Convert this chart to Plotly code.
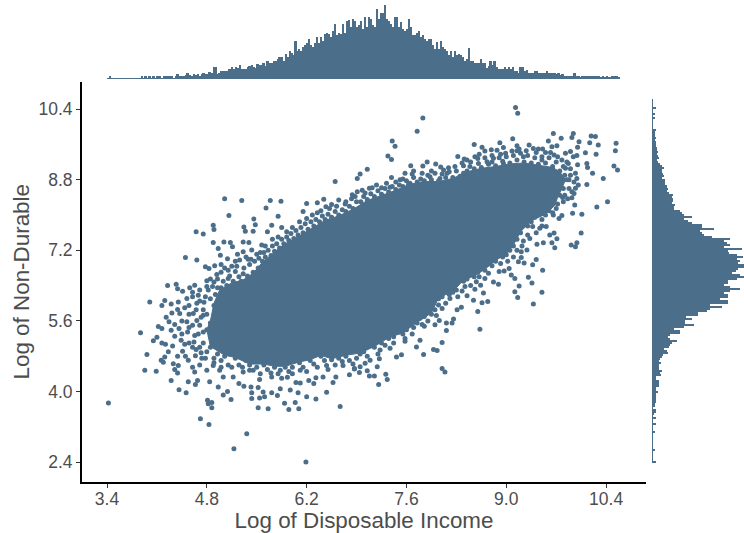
import plotly.graph_objects as go
import numpy as np

COLOR = "#4b6e8b"
TEXT = "#4d4d4d"
x_ticks = [3.4, 4.8, 6.2, 7.6, 9.0, 10.4]
x_labels = ["3.4", "4.8", "6.2", "7.6", "9.0", "10.4"]
y_ticks = [2.4, 4.0, 5.6, 7.2, 8.8, 10.4]
y_labels = ["2.4", "4.0", "5.6", "7.2", "8.8", "10.4"]

# dense core of the cloud, read as an outline (income, non-durable)
core_outline = [(4.85,5.6),(4.9,6.0),(4.98,6.3),(5.17,6.48),(5.28,6.5),(5.45,6.68),(5.58,6.93),(5.75,7.16),(5.88,7.33),
    (6.02,7.45),(6.15,7.58),(6.3,7.73),(6.46,7.88),(6.65,7.98),(6.85,8.13),(7.05,8.33),(7.25,8.45),(7.45,8.56),
    (7.65,8.7),(7.85,8.76),(8.05,8.76),(8.25,8.83),(8.45,8.98),(8.65,9.06),(8.85,9.1),(9.05,9.16),(9.25,9.18),
    (9.45,9.13),(9.65,9.08),(9.75,8.98),(9.83,8.8),(9.78,8.6),(9.72,8.4),(9.68,8.22),(9.55,8.02),(9.35,7.87),
    (9.2,7.62),(9.1,7.32),(9.0,7.12),(8.85,6.97),(8.7,6.77),(8.55,6.62),(8.4,6.52),(8.25,6.27),(8.05,6.12),
    (7.95,5.78),(7.75,5.57),(7.55,5.33),(7.35,5.22),(7.15,5.02),(6.95,4.87),(6.75,4.82),(6.55,4.74),(6.4,4.82),
    (6.25,4.72),(6.1,4.67),(5.9,4.57),(5.75,4.57),(5.6,4.62),(5.4,4.62),(5.2,4.77),(5.05,4.82),(4.85,5.02),
    (4.8,5.4),(4.85,5.6)]

# individually readable points (income, non-durable)
points_low = [(3.42,3.74),(3.87,5.33),(4.0,6.03),(3.93,4.48),(3.96,4.84),(4.09,4.46),(4.05,5.15),(4.10,5.23),
    (4.12,5.47),(4.17,5.43),(4.17,5.95),(4.21,6.06),(4.25,6.40),(4.37,6.43),(4.39,6.33),(4.50,7.04),(4.65,7.62),
    (4.75,7.57),(4.89,7.77),(4.90,7.67),(5.05,8.37),(5.11,7.99),(5.29,8.33),(5.32,7.73),(5.34,7.63),(5.46,7.91),
    (5.45,7.63),(5.48,7.78),(5.63,8.16),(5.69,8.33),(5.84,8.31),(5.80,7.97),(5.71,7.77),(5.65,7.62),(5.85,7.72),
    (6.20,8.26),(6.15,8.08),(6.35,8.28),(6.44,8.36),(6.35,8.05),(6.47,8.19),(6.55,8.24),(6.65,8.34),(6.60,8.76),
    (6.74,8.25),(6.83,8.37),(6.91,8.53),(4.89,7.38),(5.04,7.39),(5.13,7.38),(5.16,7.28),(5.31,7.39),(5.39,7.38),
    (5.57,7.32),(4.96,7.24),(4.99,7.09),(5.09,7.01),(4.66,6.98),(4.78,6.83),(4.91,6.85),(4.83,6.79),(5.0,6.88),
    (5.15,6.84),(5.23,7.11),(5.31,7.17),(5.43,7.21),(5.38,7.0),(5.26,6.98),(5.22,6.84),(5.50,7.11),(4.94,6.65),
    (4.80,6.51),(4.90,6.48),(5.10,6.56),(5.31,6.67),(4.56,6.35),(4.63,6.41),(4.46,6.27),(4.68,6.18),(4.82,6.30),
    (4.52,6.11),(4.40,6.03),(4.30,5.98),(4.31,5.78),(4.39,5.86),(4.49,5.90),(4.66,6.0),(4.76,6.02),(4.42,5.77),
    (4.61,5.77),(4.23,5.68),(4.27,5.58),(4.35,5.52),(4.52,5.58),(4.66,5.61),(4.75,5.73),(4.30,5.39),(4.41,5.43),
    (4.53,5.35),(4.63,5.27),(4.75,5.35),(4.44,5.16),(4.17,5.10),(4.22,5.07),(4.32,5.03),(4.49,5.07),(4.60,5.0),
    (4.26,4.90),(4.46,4.91),(4.21,4.78),(4.39,4.80),(4.64,4.81),(4.16,4.71),(4.19,4.66),(4.33,4.63),(4.40,4.59),
    (4.54,4.71),(4.73,4.75),(4.35,4.50),(4.39,4.42),(4.63,4.44),(4.80,4.48),(4.30,4.25),(4.54,4.22),(4.67,4.25),
    (4.64,4.16),(4.84,4.22),(4.41,4.04),(4.51,3.97),(4.96,4.10),(5.09,4.0),(5.03,3.92),(5.14,3.82),(4.81,3.80),
    (4.87,3.75),(4.82,3.72),(4.87,3.63),(4.71,3.38),(4.83,3.25),(5.36,3.04),(5.18,2.70),(6.19,2.40),(6.67,3.66),
    (6.48,3.98),(6.33,3.83),(6.20,3.88),(6.09,3.61),(5.95,3.59),(6.04,3.75),(5.89,3.73),(5.66,3.61),(5.52,3.63),
    (5.43,3.84),(5.54,3.85),(5.61,3.88),(5.79,3.91),(5.97,4.03),(6.08,3.97),(5.71,3.97),(5.43,3.97),(5.59,3.99),
    (5.32,4.12),(5.25,4.18),(5.42,4.10),(5.52,4.09),(5.83,4.06),(5.54,4.27),(5.71,4.33),(5.93,4.32),(6.05,4.20),
    (6.11,4.19),(6.30,4.18),(6.23,4.25),(6.33,4.31),(6.43,4.33),(6.57,4.20),(6.61,4.33),(6.80,4.38),(6.87,4.51),
    (6.94,4.43),(6.71,4.59),(5.03,4.33),(5.17,4.33),(5.31,4.44),(5.45,4.48),(5.83,4.48),(6.11,4.48),(6.48,4.59),
    (4.89,4.59),(4.98,4.48)]

points_high = [(9.13,10.44),(9.16,10.31),(7.83,10.20),(7.75,9.90),(7.40,9.68),(7.44,9.56),(7.34,9.34),(7.39,9.26),
    (7.05,9.04),(6.95,8.93),(6.91,8.83),(7.39,8.85),(7.58,8.95),(7.68,8.93),(7.66,9.12),(7.89,9.20),(7.83,9.11),
    (8.01,9.16),(8.08,9.09),(8.19,9.07),(8.32,9.33),(8.41,9.27),(8.55,9.60),(8.56,9.32),(8.66,9.54),(8.70,9.45),
    (8.79,9.48),(8.91,9.64),(8.96,9.53),(8.87,9.47),(8.99,9.40),(9.09,9.73),(9.15,9.57),(8.82,9.29),(9.15,9.46),
    (9.32,9.59),(9.38,9.51),(9.45,9.50),(9.51,9.50),(9.59,9.68),(9.66,9.85),(9.77,9.74),(9.64,9.55),(9.71,9.57),
    (9.94,9.85),(9.92,9.76),(10.02,9.66),(10.0,9.54),(10.19,9.79),(10.25,9.78),(10.17,9.64),(10.29,9.59),
    (10.54,9.63),(10.53,9.46),(10.26,9.38),(10.11,9.41),(10.51,9.11),(10.56,9.02),(10.36,8.83),(10.21,8.95),
    (10.13,9.17),(10.14,9.08),(10.0,9.14),(9.83,9.40),(9.90,9.44),(9.94,9.32),(9.99,9.35),(9.67,9.36),(9.87,9.17),
    (9.83,9.06),(9.97,8.95),(9.99,8.83),(9.88,8.80),(10.13,8.69),(10.01,8.68),(9.97,8.61),(9.92,8.53),(9.95,8.49),
    (9.92,8.39),(9.86,8.37),(9.79,8.40),(10.42,8.30),(10.27,8.18),(9.96,8.23),(9.93,8.04),(10.06,8.02),(9.78,7.99),
    (9.74,7.92),(9.66,8.0),(10.05,7.59),(9.67,7.59),(9.71,7.46),(9.61,7.55),(9.91,7.32),(9.99,7.37),(9.97,7.28),
    (9.68,7.26),(9.64,7.37),(9.52,7.37),(9.43,7.34),(9.56,7.74),(9.47,7.70),(9.37,7.74),(9.33,7.47),(9.24,7.41),
    (9.29,7.21),(9.21,7.17),(9.21,7.04),(9.42,6.99),(9.37,6.87),(9.25,6.91),(9.17,6.94),(9.51,6.75),(9.04,6.79),
    (8.97,6.73),(8.90,6.72),(9.07,6.64),(9.12,6.56),(9.31,6.59),(9.36,6.46),(9.18,6.39),(9.12,6.26),(9.50,6.25),
    (9.16,6.13),(9.38,5.98),(8.89,6.43),(8.82,6.48),(8.70,6.56),(8.58,6.49),(8.64,6.41),(8.56,6.32),(8.68,6.23),
    (8.74,6.04),(8.66,6.01),(8.60,5.81),(8.42,6.38),(8.45,6.17),(8.54,6.07),(8.37,5.91),(8.31,5.85),(8.63,5.41),
    (8.26,5.64),(8.24,5.55),(8.16,5.55),(8.06,5.61),(8.0,5.51),(8.16,5.38),(8.10,5.11),(8.03,4.93),(7.98,4.95),
    (7.84,4.84),(7.74,5.01),(7.79,5.16),(7.85,5.48),(8.10,4.52),(8.14,4.44),(7.53,4.83),(7.46,4.78),(7.22,4.74),
    (7.19,4.56),(7.31,4.39),(7.33,4.27),(7.21,4.16),(7.15,4.35),(7.08,4.35),(6.95,4.56),(6.87,4.52),(7.05,4.47),
    (7.09,4.71),(7.02,4.64),(7.0,4.90),(7.23,4.94),(7.37,4.98),(7.58,5.14),(7.42,5.24),(7.65,5.51),(7.79,5.66),
    (8.05,5.96),(8.21,6.11),(6.84,8.46),(6.98,8.56),(7.08,8.61),(7.18,8.68),(7.37,8.63),(7.51,8.80),(7.63,8.70),
    (7.82,8.95),(7.93,8.87),(8.07,8.83),(8.17,8.95),(8.40,8.95),(8.49,9.10),(8.61,9.17),(8.73,9.21),(8.96,9.17),
    (9.24,9.32),(9.50,9.25)]

# crowded band of points around the dense core
points_band = [(5.0,6.35),(5.03,6.5),(5.08,6.4),(5.12,6.62),(5.17,6.5),(5.2,6.72),(5.25,6.6),(5.28,6.5),(5.32,6.8),
    (5.37,6.62),(5.4,6.88),(5.45,6.7),(5.47,6.95),(5.52,6.8),(5.53,7.02),(5.58,6.95),(5.6,7.15),(5.62,7.05),
    (5.66,7.2),(5.7,7.08),(5.72,7.3),(5.75,7.18),(5.78,7.35),(5.82,7.25),(5.85,7.45),(5.88,7.35),(5.92,7.5),
    (5.95,7.42),(5.98,7.58),(6.02,7.47),(6.05,7.65),(6.08,7.55),(6.12,7.72),(6.15,7.6),(6.18,7.8),(6.22,7.68),
    (6.26,7.85),(6.3,7.75),(6.33,7.9),(6.38,7.85),(6.42,7.98),(6.46,7.9),(6.5,8.02),(6.55,7.95),(6.6,8.08),
    (6.65,8.0),(6.7,8.12),(6.75,8.08),(6.8,8.2),(6.85,8.15),(6.9,8.3),(6.96,8.3),(7.0,8.42),(7.05,8.35),(7.1,8.48),
    (7.15,8.42),(7.2,8.55),(7.25,8.47),(7.3,8.6),(7.35,8.52),(7.4,8.65),(7.45,8.58),(7.5,8.68),(7.55,8.65),
    (7.6,8.78),(7.65,8.72),(7.7,8.85),(7.75,8.75),(7.8,8.82),(7.85,8.78),(7.9,8.9),(7.95,8.8),(8.0,8.95),(8.05,8.78),
    (8.1,8.93),(8.15,8.85),(8.2,8.98),(8.25,8.85),(8.3,9.0),(8.35,8.88),(8.4,9.12),(8.45,9.0),(8.5,9.2),(8.55,9.05),
    (8.6,9.28),(8.65,9.08),(8.7,9.3),(8.75,9.15),(8.8,9.2),(8.85,9.12),(8.9,9.3),(8.95,9.22),(9.0,9.32),(9.05,9.18),
    (9.1,9.35),(9.15,9.25),(9.2,9.4),(9.25,9.2),(9.3,9.35),(9.35,9.18),(9.4,9.3),(9.45,9.15),(9.5,9.32),(9.55,9.18),
    (9.6,9.3),(9.65,9.1),(9.7,9.2),(9.75,9.0),(9.8,9.1),(9.82,8.9),(9.85,8.8),(9.8,8.6),(9.75,8.45),(9.72,8.25),
    (9.6,8.1),(9.55,8.0),(9.5,7.9),(9.4,7.95),(9.35,7.85),(9.3,7.75),(9.2,7.6),(9.15,7.45),(9.1,7.3),(9.05,7.2),
    (9.0,7.1),(8.95,7.05),(8.85,6.95),(8.8,6.85),(8.7,6.75),(8.6,6.7),(8.55,6.6),(8.45,6.55),(8.4,6.5),(8.3,6.3),
    (8.25,6.25),(8.2,6.2),(8.1,6.15),(8.05,6.1),(8.0,5.85),(7.95,5.75),(7.9,5.8),(7.85,5.7),(7.75,5.55),(7.7,5.45),
    (7.6,5.4),(7.55,5.3),(7.5,5.35),(7.35,5.2),(7.3,5.3),(7.25,5.1),(7.15,5.0),(7.1,5.05),(6.95,4.85),(6.9,4.75),
    (6.8,4.7),(6.75,4.8),(6.65,4.75),(6.6,4.6),(6.55,4.72),(6.45,4.7),(6.4,4.8),(6.3,4.62),(6.25,4.7),(6.15,4.55),
    (6.1,4.65),(6.0,4.55),(5.95,4.45),(5.9,4.55),(5.8,4.4),(5.75,4.55),(5.65,4.5),(5.6,4.6),(5.5,4.55),(5.4,4.6),
    (5.35,4.7),(5.25,4.6),(5.2,4.75),(5.1,4.6),(5.05,4.8),(5.0,4.7),(4.95,4.85),(4.9,4.75),(4.85,5.0),(4.8,4.9),
    (4.75,5.1),(4.7,5.0),(4.85,5.25),(4.8,5.4),(4.7,5.5),(4.85,5.55),(4.75,5.85),(4.8,5.75),(4.9,5.95),(4.85,6.1),
    (4.78,6.15),(4.92,6.2),(4.88,6.38),(4.95,6.35),(4.7,6.3),(4.6,6.15),(4.55,5.95),(4.6,5.5),(4.55,5.45),(4.45,5.6),
    (4.45,5.3),(4.55,5.1),(4.35,5.25),(4.5,4.8),(4.6,4.55),(4.7,4.6),(4.65,4.95),(4.55,5.75)]

points_outer = [(5.1,6.75),(5.2,6.95),(5.35,7.05),(5.42,7.0),(5.55,7.15),(5.62,7.3),(5.72,7.45),(5.8,7.5),(5.92,7.62),
    (6.0,7.72),(6.1,7.85),(6.2,7.92),(6.28,8.0),(6.4,8.1),(6.52,8.15),(6.62,8.2),(6.75,8.3),(6.88,8.42),(7.02,8.5),
    (7.12,8.62),(7.25,8.62),(7.32,8.72),(7.45,8.75),(7.55,8.82),(7.7,9.0),(7.95,9.0),(8.12,9.02),(8.28,9.1),(8.38,9.18),
    (8.45,9.25),(8.62,9.38),(8.8,9.35),(8.92,9.38),(9.08,9.45),(9.18,9.5),(9.28,9.46),(9.42,9.42),(9.55,9.42),(9.62,9.42),
    (9.72,9.32),(9.78,9.25),(9.85,9.2),(9.9,9.05),(9.9,8.9),(9.95,8.75),(9.88,8.6),(9.82,8.45),(9.8,8.3),(9.7,8.15),
    (9.65,8.05),(9.5,7.75),(9.42,7.6),(9.3,7.55),(9.22,7.3),(9.15,7.2),(9.1,7.05),(9.02,6.95),(8.92,6.9),(8.75,6.68),
    (8.62,6.6),(8.5,6.4),(8.38,6.28),(8.32,6.15),(8.15,6.0),(8.1,5.88),(8.02,5.72),(7.9,5.6),(7.82,5.52),(7.68,5.3),
    (7.58,5.2),(7.42,5.1),(7.3,5.05),(7.2,4.85),(7.05,4.8),(6.85,4.62),(6.7,4.68),(6.5,4.5),(6.35,4.55),(6.2,4.45),
    (6.0,4.4),(5.85,4.3),(5.7,4.42),(5.55,4.4),(5.4,4.48),(5.3,4.55),(5.15,4.55),(5.0,4.55),(4.9,4.65),(4.78,4.75),
    (4.72,4.88),(4.62,5.12),(4.68,5.3),(4.72,5.68),(4.65,5.85),(4.7,6.05),(4.6,6.25),(4.8,6.38),(4.85,6.55),(4.95,6.55),
    (5.0,6.7),(5.05,6.8)]

# marginal histogram of income, left to right
income_counts = [1,3,1,1,1,1,1,1,1,1,1,1,1,1,1,1,1,
    3,1,3,1,3,1,3,1,3,3,1,3,3,3,3,3,1,3,
    5,3,3,3,4,6,4,3,5,4,5,3,
    5,6,5,5,7,6,12,12,5,6,
    8,8,8,8,10,12,10,12,11,14,
    10,10,10,12,13,14,12,11,15,14,
    14,16,13,18,16,16,18,18,20,22,
    22,18,25,22,28,26,24,38,28,30,
    28,32,34,36,40,34,32,36,42,36,
    42,38,45,46,45,42,48,55,44,46,
    45,55,46,58,59,52,60,58,52,54,58,50,62,52,62,
    60,54,52,70,60,66,66,74,60,58,55,52,62,62,52,
    57,50,48,50,60,52,44,44,46,48,
    42,44,40,38,40,40,34,30,37,30,
    38,32,30,28,24,28,22,28,24,25,
    24,22,18,20,31,18,18,16,16,16,
    20,16,16,11,13,18,14,18,12,10,
    10,10,12,10,12,10,12,8,8,6,
    12,12,8,9,6,6,6,8,8,6,
    6,6,6,8,6,6,6,6,5,6,
    4,5,3,3,3,3,3,6,3,3,
    2,3,3,3,3,3,3,3,3,3,
    2,3,2,3,2,2,3,3,3,2]

# marginal histogram of non-durable, top to bottom
nondurable_counts = [1,1,1,1,4,1,1,3,1,3,1,1,1,1,1,
    4,3,3,3,4,3,4,4,4,5,
    5,6,5,6,7,5,6,8,10,12,
    10,10,11,12,10,13,13,13,15,16,
    15,17,21,20,21,21,20,23,22,22,
    28,30,32,40,32,36,40,50,50,62,
    48,50,52,60,78,72,75,78,72,90,
    76,77,85,91,85,88,86,92,92,86,84,80,
    88,92,85,76,76,72,78,88,78,72,
    76,76,68,76,76,58,70,58,55,46,
    46,34,40,33,33,42,32,22,28,28,
    18,16,18,25,20,18,17,12,15,16,
    11,10,8,7,9,7,7,7,10,8,
    9,4,4,7,7,7,4,4,6,4,
    4,4,4,4,3,3,1,4,4,2,
    1,4,1,1,4,1,1,1,3,1,
    1,1,1,1,1,1,1,3,1,1,1,1,1,4]

income_edges = np.linspace(3.4, 10.59, len(income_counts) + 1)
nondurable_edges = np.linspace(10.63, 2.38, len(nondurable_counts) + 1)
income_mid = (income_edges[:-1] + income_edges[1:]) / 2
nondurable_mid = (nondurable_edges[:-1] + nondurable_edges[1:]) / 2

W, H = 744, 533
FONT = "Liberation Sans, Arial"
fig = go.Figure()
cx, cy = zip(*core_outline)
fig.add_trace(go.Scatter(x=cx, y=cy, mode="lines", fill="toself", fillcolor=COLOR,
                         line=dict(color=COLOR, width=1), xaxis="x", yaxis="y"))
px_, py_ = zip(*(points_low + points_high + points_band + points_outer))
fig.add_trace(go.Scatter(x=px_, y=py_, mode="markers", xaxis="x", yaxis="y",
                         marker=dict(color=COLOR, size=5, line=dict(width=0))))
fig.add_trace(go.Bar(x=income_mid, y=income_counts, xaxis="x2", yaxis="y2", width=income_edges[1]-income_edges[0],
                     marker=dict(color=COLOR, line=dict(width=0))))
fig.add_trace(go.Bar(y=nondurable_mid, x=nondurable_counts, orientation="h", xaxis="x3", yaxis="y3",
                     width=abs(nondurable_edges[1]-nondurable_edges[0]),
                     marker=dict(color=COLOR, line=dict(width=0))))

xr = [3.4 + (82 - 107) / 71.3, 3.4 + (646 - 107) / 71.3]
yr = [2.4 - (481.5 - 462) / 44.1, 2.4 + (462 - 82) / 44.1]
axis_common = dict(showgrid=False, zeroline=False, showline=True, linecolor="black", linewidth=2,
                   ticks="outside", ticklen=4, tickwidth=1, tickcolor="#333333",
                   tickfont=dict(family=FONT, size=17.5, color=TEXT))
fig.update_layout(
    width=W, height=H, margin=dict(l=0, r=0, t=0, b=0), showlegend=False, bargap=0,
    paper_bgcolor="white", plot_bgcolor="white",
    xaxis=dict(domain=[82/W, 646/W], range=xr, tickvals=x_ticks, ticktext=x_labels, anchor="y", ticklabelstandoff=-4,
               title=dict(text="Log of Disposable Income", standoff=3,
                          font=dict(family=FONT, size=22.4, color=TEXT)), **axis_common),
    yaxis=dict(domain=[1-481.5/H, 1-82/H], range=yr, tickvals=y_ticks, ticktext=y_labels, anchor="x",
               title=dict(text="Log of Non-Durable", standoff=3,
                          font=dict(family=FONT, size=22.4, color=TEXT)), **axis_common),
    xaxis2=dict(domain=[82/W, 646/W], range=xr, visible=False, anchor="y2"),
    yaxis2=dict(domain=[1-79/H, 1-4/H], range=[0, 75], visible=False, anchor="x2"),
    xaxis3=dict(domain=[652/W, 744/W], range=[0, 92], visible=False, anchor="y3"),
    yaxis3=dict(domain=[1-481.5/H, 1-82/H], range=yr, visible=False, anchor="x3"),
)
fig.write_html("out.html", config=dict(displayModeBar=False),
               post_script="document.body.style.margin='0';document.body.style.overflow='hidden';")
